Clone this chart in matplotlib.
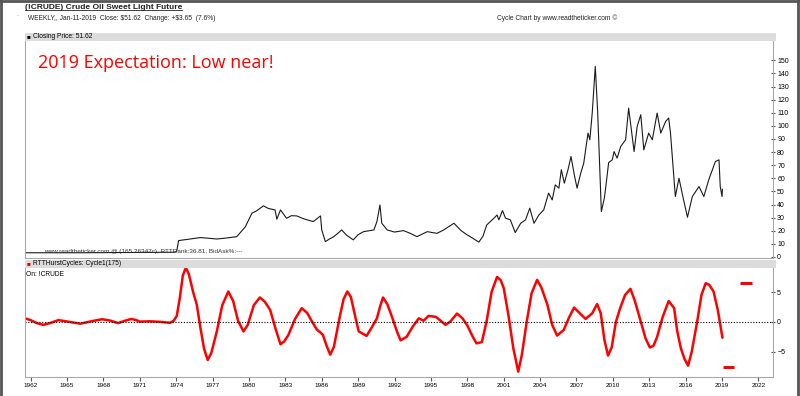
import matplotlib
matplotlib.use('Agg')
import matplotlib.pyplot as plt
from matplotlib.patches import Rectangle
from matplotlib.lines import Line2D

# weekly close of !CRUDE (decimal year, $)
price_year = [1961.54, 1966.0, 1970.0, 1973.9, 1974.05, 1974.2, 1975.0, 1976.0, 1977.35, 1978.2,
              1979.0, 1979.7, 1980.25, 1980.6, 1981.2, 1981.6, 1982.15, 1982.3, 1982.6, 1983.1,
              1983.5, 1983.95, 1984.4, 1984.8, 1985.3, 1985.9, 1986.0, 1986.3, 1986.6, 1987.0,
              1987.65, 1988.0, 1988.6, 1989.0, 1989.45, 1990.3, 1990.55, 1990.8, 1990.95, 1991.4,
              1992.0, 1992.75, 1993.3, 1993.85, 1994.7, 1995.5, 1996.05, 1996.9, 1997.5, 1998.0,
              1998.5, 1998.95, 1999.3, 1999.6, 2000.2, 2000.45, 2000.6, 2000.9, 2001.15, 2001.55,
              2001.95, 2002.4, 2002.8, 2003.15, 2003.5, 2003.9, 2004.3, 2004.7, 2005.0, 2005.25,
              2005.55, 2005.75, 2006.0, 2006.3, 2006.55, 2006.85, 2007.05, 2007.35, 2007.6, 2007.95,
              2008.1, 2008.3, 2008.55, 2008.75, 2009.05, 2009.3, 2009.5, 2009.65, 2009.95, 2010.1,
              2010.35, 2010.65, 2011.05, 2011.3, 2011.75, 2012.0, 2012.3, 2012.55, 2012.95, 2013.25,
              2013.65, 2013.95, 2014.35, 2014.6, 2014.75, 2015.15, 2015.45, 2015.8, 2016.15, 2016.55,
              2017.1, 2017.5, 2017.9, 2018.45, 2018.75, 2018.85, 2019.0, 2019.03]
price_close = [3.2, 3.2, 3.4, 3.6, 4.5, 12.5, 13.5, 14.8, 13.7, 14.5,
               15.5, 23.0, 33.4, 35.0, 39.0, 37.0, 35.9, 28.8, 35.9, 29.5,
               31.5, 31.3, 29.5, 28.3, 27.0, 31.3, 20.6, 11.7, 13.5, 15.5,
               20.6, 17.0, 13.0, 17.0, 19.3, 20.6, 27.0, 39.7, 25.7, 20.6,
               19.0, 20.1, 18.0, 15.5, 19.3, 18.0, 20.6, 25.7, 20.0, 16.8,
               14.0, 11.3, 16.0, 24.4, 29.6, 32.0, 28.3, 35.4, 29.6, 28.3,
               18.6, 25.7, 28.3, 37.2, 25.7, 32.0, 35.9, 48.7, 43.5, 55.0,
               52.5, 66.5, 56.3, 66.5, 76.6, 61.3, 52.5, 63.9, 71.6, 94.5,
               89.4, 110.0, 145.4, 110.0, 34.6, 45.0, 60.0, 72.0, 74.1, 80.4,
               75.4, 84.3, 89.4, 113.6, 80.4, 99.5, 108.5, 81.7, 94.5, 89.4,
               109.8, 94.5, 103.4, 106.0, 94.5, 46.1, 60.1, 44.8, 30.3, 46.1,
               53.7, 46.1, 58.8, 72.8, 74.1, 53.7, 46.1, 51.62]

# RTTHurstCycles Cycle1(175)
cycle_year = [1961.54, 1962.0, 1962.5, 1963.05, 1963.6, 1964.3, 1965.2, 1966.1, 1967.0, 1967.9,
              1968.6, 1969.2, 1969.8, 1970.3, 1970.7, 1971.0, 1971.85, 1972.7, 1973.5, 1973.8,
              1974.05, 1974.3, 1974.55, 1974.8, 1975.05, 1975.4, 1975.7, 1976.0, 1976.3, 1976.6,
              1976.9, 1977.35, 1977.8, 1978.3, 1978.7, 1979.1, 1979.55, 1979.9, 1980.4, 1980.9,
              1981.3, 1981.75, 1982.2, 1982.6, 1982.9, 1983.25, 1983.8, 1984.35, 1984.8, 1985.2,
              1985.6, 1985.9, 1986.1, 1986.4, 1986.7, 1987.0, 1987.5, 1987.8, 1988.1, 1988.4,
              1988.75, 1989.05, 1989.7, 1990.1, 1990.55, 1990.8, 1991.05, 1991.4, 1991.8, 1992.2,
              1992.5, 1993.0, 1993.5, 1994.0, 1994.4, 1994.8, 1995.4, 1995.8, 1996.2, 1996.6,
              1997.15, 1997.6, 1998.0, 1998.4, 1998.75, 1999.2, 1999.6, 2000.0, 2000.45, 2000.75,
              2001.0, 2001.4, 2001.8, 2002.2, 2002.5, 2002.9, 2003.3, 2003.75, 2004.1, 2004.6,
              2005.0, 2005.4, 2005.95, 2006.4, 2006.8, 2007.2, 2007.75, 2008.3, 2008.7, 2009.0,
              2009.3, 2009.6, 2009.9, 2010.25, 2010.6, 2011.0, 2011.45, 2011.8, 2012.3, 2012.7,
              2013.05, 2013.35, 2013.65, 2014.1, 2014.6, 2015.05, 2015.3, 2015.6, 2015.9, 2016.2,
              2016.5, 2016.95, 2017.3, 2017.65, 2017.95, 2018.3, 2018.65, 2019.03]
cycle_val = [0.6, 0.3, -0.2, -0.5, -0.2, 0.3, 0.0, -0.3, 0.1, 0.45,
             0.2, -0.2, 0.2, 0.5, 0.3, 0.05, 0.1, 0.0, -0.15, 0.2,
             1.0, 4.0, 7.8, 9.1, 8.0, 5.0, 2.9, -1.0, -4.5, -6.4,
             -5.2, -1.6, 2.8, 5.1, 3.5, 0.2, -1.6, -0.5, 2.8, 4.1,
             3.4, 2.0, -1.2, -3.75, -3.3, -2.2, 0.5, 2.3, 1.5, 0.05,
             -1.3, -1.8, -2.2, -4.0, -5.5, -4.2, 1.0, 3.8, 5.1, 4.2,
             1.0, -1.6, -2.35, -1.0, 0.6, 2.5, 4.1, 3.0, 0.8, -1.6,
             -3.1, -2.5, -0.8, 0.6, 0.2, 1.0, 0.85, 0.2, -0.5, 0.05,
             1.4, 0.6, -0.6, -2.3, -3.6, -3.4, 0.2, 5.0, 7.55, 7.0,
             5.7, 1.0, -4.5, -8.35, -5.5, 0.05, 4.8, 7.05, 5.8, 2.9,
             -0.5, -2.3, -1.35, 0.8, 2.4, 1.6, 0.5, 1.45, 3.0, 1.45,
             -3.0, -5.65, -4.3, 0.0, 2.3, 4.5, 5.55, 3.6, 0.05, -2.8,
             -4.3, -4.0, -2.5, 0.8, 3.5, 2.3, -1.5, -4.4, -6.2, -7.35,
             -5.0, 0.05, 4.5, 6.5, 6.2, 5.1, 2.0, -2.65]

# projected cycle levels (start, end, value)
proj_start = [2019.05, 2020.45]
proj_end = [2020.0, 2021.5]
proj_val = [-7.5, 6.6]

year_ticks = list(range(1962, 2023, 3))
price_ticks = list(range(0, 151, 10))

W, H = 800, 396
def fx(px):
    return px / W
def fy(py):
    return 1 - py / H

plt.rcParams['font.family'] = ['Liberation Sans', 'DejaVu Sans']

fig = plt.figure(figsize=(8, 3.96), dpi=100)
fig.patch.set_facecolor('white')

spine_col = '#a8a8a8'
xlo, xhi = 1961.54, 2023.2

# ---- upper panel: closing price
ax1 = fig.add_axes([fx(25), fy(258), fx(748), 217.3 / H])
ax1.plot(price_year, price_close, color='#1a1a1a', lw=0.8)
ax1.set_xlim(xlo, xhi)
ax1.set_ylim(-0.8, 165)
ax1.set_xticks([])
ax1.yaxis.tick_right()
ax1.set_yticks(price_ticks)
ax1.tick_params(axis='y', labelsize=5, length=3, direction='inout', pad=1.5, color='#555555')
ax1.spines['top'].set_visible(False)
for s in ['left', 'right', 'bottom']:
    ax1.spines[s].set_color(spine_col)
    ax1.spines[s].set_linewidth(0.8)

ax1.text(0.018, 0.874, '2019 Expectation: Low near!', transform=ax1.transAxes, color='#ff0000',
         fontsize=13, family='Open Sans', va='baseline', ha='left')
ax1.text(0.025, 0.03, 'www.readtheticker.com @ (165.26347c), RTTRank:36.81, BidAsk%:---',
         transform=ax1.transAxes, fontsize=4.6, color='#333333', va='center', ha='left')

# ---- lower panel: hurst cycle
ax2 = fig.add_axes([fx(25), fy(376.7), fx(748), 109 / H])
ax2.plot(cycle_year, cycle_val, color='#ff0000', lw=1.8, solid_capstyle='round')
ax2.hlines(proj_val, proj_start, proj_end, color='#ff0000', lw=2.2)
ax2.axhline(0, color='black', lw=0.8, ls=(0, (1, 1.5)))
ax2.set_xlim(xlo, xhi)
ax2.set_ylim(-9.2, 9.1)
ax2.yaxis.tick_right()
ax2.set_yticks([-5, 0, 5])
ax2.set_xticks(year_ticks)
ax2.set_xticklabels([str(y) for y in year_ticks])
ax2.tick_params(axis='y', labelsize=5, length=3, direction='inout', pad=1.5, color='#555555')
ax2.tick_params(axis='x', labelsize=4.6, length=3, direction='out', pad=1.5, color='#555555')
ax2.spines['top'].set_visible(False)
for s in ['left', 'right', 'bottom']:
    ax2.spines[s].set_color(spine_col)
    ax2.spines[s].set_linewidth(0.8)
ax2.text(0.002, 0.94, 'On: !CRUDE', transform=ax2.transAxes, fontsize=4.8, va='center', ha='left')

# ---- header bars
for top in [32.7, 259.7]:
    fig.add_artist(Rectangle((fx(25), fy(top + 8)), fx(751), 8 / H, transform=fig.transFigure,
                             facecolor='#dcdcdc', edgecolor='none'))
fig.text(fx(27), fy(36.7), '\u25a0', fontsize=4.5, va='center', ha='left', color='black')
fig.text(fx(33), fy(36.7), 'Closing Price: 51.62', fontsize=4.8, va='center', ha='left')
fig.text(fx(27), fy(263.7), '\u25a0', fontsize=4.5, va='center', ha='left', color='#e00000')
fig.text(fx(33), fy(263.7), 'RTTHurstCycles: Cycle1(175)', fontsize=4.8, va='center', ha='left')

# ---- page header
title = fig.text(fx(25), fy(7.5), '(!CRUDE) Crude Oil Sweet Light Future', fontsize=6,
                 fontweight='bold', va='center', ha='left', color='#222222')
fig.text(fx(28), fy(18), r'WEEKLY,, Jan-11-2019  Close: \$51.62  Change: +\$3.65  (7.6%)',
         fontsize=4.8, va='center', ha='left', color='#222222')
fig.text(fx(497), fy(18), 'Cycle Chart by www.readtheticker.com \u00a9', fontsize=4.8,
         va='center', ha='left', color='#222222')
fig.text(fx(16), fy(14), '.', fontsize=5, color='#888888', va='center')

fig.canvas.draw()
bb = title.get_window_extent().transformed(fig.transFigure.inverted())
fig.add_artist(Line2D([bb.x0, bb.x1], [bb.y0 + 0.002, bb.y0 + 0.002], transform=fig.transFigure,
                      color='#222222', lw=0.6))

# frame around the page
for xs, ys in [([0.0015, 0.0015], [0, 1]), ([0, 1], [0.998, 0.998]), ([0.998, 0.998], [0, 1])]:
    fig.add_artist(Line2D(xs, ys, transform=fig.transFigure, color='#555555', lw=2))

fig.savefig('out.png', dpi=100)
